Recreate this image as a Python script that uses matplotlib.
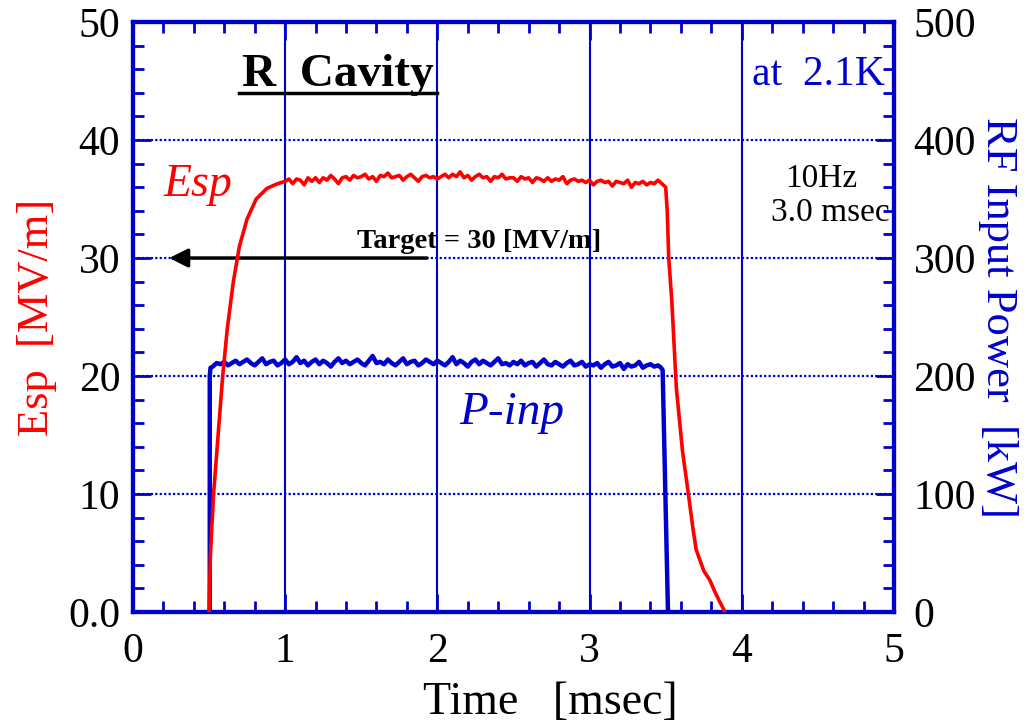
import numpy as np
import matplotlib
matplotlib.use("Agg")
import matplotlib.pyplot as plt
from matplotlib.ticker import MultipleLocator

plt.rcParams['font.family'] = ['Liberation Serif', 'DejaVu Serif']

# Esp [MV/m] trace
esp_rise_t = [0.50, 0.51, 0.53, 0.56, 0.59, 0.62, 0.66, 0.70, 0.75, 0.81, 0.88, 0.95]
esp_rise_v = [0.0, 5.0, 10.0, 15.0, 20.0, 24.0, 28.0, 31.0, 33.3, 35.0, 35.9, 36.3]
esp_flat_v = [36.5, 36.7, 36.3, 36.7, 36.6, 36.2, 36.8, 36.5, 36.8, 36.4, 36.8, 36.6, 37.0, 36.7, 36.3, 36.8, 36.9, 36.6, 37.0, 36.8,
              36.9, 37.1, 36.7, 36.9, 36.5, 37.0, 36.9, 37.2, 36.8, 36.9, 37.0, 36.6, 36.9, 37.1, 36.8, 36.5, 36.9, 37.0, 36.8, 36.9,
              36.7, 36.9, 37.1, 36.8, 37.1, 36.9, 37.3, 36.8, 37.0, 36.6, 36.9, 37.1, 36.8, 36.9, 36.5, 36.9, 36.8, 37.1, 36.7, 36.8,
              36.8, 36.5, 36.9, 36.7, 36.8, 36.4, 36.8, 36.7, 36.5, 36.8, 36.5, 36.7, 36.6, 36.9, 36.3, 36.6, 36.7, 36.5, 36.6, 36.4,
              36.6, 36.2, 36.5, 36.6, 36.4, 36.5, 36.1, 36.5, 36.4, 36.3, 36.6, 36.0, 36.4, 36.3, 36.5, 36.2, 36.4, 36.3, 36.6, 36.3]
esp_fall_t = [3.50, 3.51, 3.52, 3.54, 3.57, 3.61, 3.65, 3.68, 3.70, 3.75, 3.79, 3.82, 3.85, 3.89]
esp_fall_v = [36.0, 34.0, 30.0, 26.4, 19.0, 13.7, 9.9, 7.0, 5.3, 3.5, 2.7, 1.8, 1.0, 0.0]

# RF input power [kW] trace
pin_rise_t = [0.505, 0.505, 0.51]
pin_rise_v = [0.0, 200.0, 207.0]
pin_flat_v = [208, 211, 210, 212, 209, 211, 213, 210, 212, 214, 211, 209, 212, 215, 210, 212, 213, 209, 211, 214,
              210, 212, 216, 211, 213, 209, 212, 214, 210, 213, 211, 208, 212, 215, 211, 213, 210, 212, 214, 211,
              209, 213, 217, 211, 212, 210, 214, 211, 209, 212, 215, 210, 212, 213, 209, 211, 214, 212, 210, 213,
              211, 209, 212, 216, 210, 213, 211, 208, 212, 214, 210, 213, 211, 209, 212, 215, 210, 211, 209, 212,
              210, 213, 209, 211, 212, 208, 211, 214, 210, 209, 212, 210, 208, 211, 213, 209, 210, 212, 208, 210,
              209, 211, 207, 210, 212, 208, 209, 211, 206, 210, 208, 209, 212, 207, 209, 210, 208, 209]
pin_fall_t = [3.47, 3.48, 3.515]
pin_fall_v = [207.0, 205.0, 0.0]

# sampling grid of the flat parts
esp_flat_t = [1.0 + 0.025 * i for i in range(len(esp_flat_v))]
pin_flat_t = [0.525 + 0.025 * i for i in range(len(pin_flat_v))]

esp_t = esp_rise_t + esp_flat_t + esp_fall_t
esp_v = esp_rise_v + esp_flat_v + esp_fall_v
pin_t = pin_rise_t + pin_flat_t + pin_fall_t
pin_v = pin_rise_v + pin_flat_v + pin_fall_v

BLUE = '#0000cc'
RED = '#ff0000'

fig = plt.figure(figsize=(10.3, 7.23), dpi=100)
ax = fig.add_axes([0.129, 0.1535, 0.739, 0.816])
ax2 = ax.twinx()

ax2.plot(pin_t, pin_v, color=BLUE, lw=3.2, zorder=3)
ax.plot(esp_t, esp_v, color=RED, lw=2.6, zorder=4)

ax.set_xlim(0, 5)
ax.set_ylim(0, 50)
ax2.set_ylim(0, 500)

ax.set_zorder(ax2.get_zorder() + 1)
ax.patch.set_visible(False)

ax.xaxis.set_major_locator(MultipleLocator(1))
ax.xaxis.set_minor_locator(MultipleLocator(0.2))
ax.yaxis.set_minor_locator(MultipleLocator(2))
ax2.yaxis.set_major_locator(MultipleLocator(100))
ax2.yaxis.set_minor_locator(MultipleLocator(20))
ax.set_yticks([0, 10, 20, 30, 40, 50])
ax.set_yticklabels(['0.0', '10', '20', '30', '40', '50'])

for a in (ax, ax2):
    for s in a.spines.values():
        s.set_color(BLUE)
        s.set_linewidth(3)
    a.tick_params(which='both', direction='in', color=BLUE, labelsize=30, labelcolor='black')
    a.tick_params(which='major', length=13, width=2)
    a.tick_params(which='minor', length=8, width=2)
ax.tick_params(which='both', top=True, right=False)
ax.tick_params(axis='x', pad=15)
ax.tick_params(axis='y', pad=9)
ax2.tick_params(axis='y', pad=14)

# grid: solid vertical, dotted horizontal
for xv in [1, 2, 3, 4]:
    ax.axvline(xv, color=BLUE, lw=1.5, zorder=1)
for yv in [10, 20, 30, 40]:
    ax.axhline(yv, color=BLUE, lw=1.6, ls=(0, (1, 1)), zorder=1)

ax.set_xlabel('Time   [msec]', fontsize=33)
ax.xaxis.set_label_coords(0.548, -0.118)
ax.set_ylabel('Esp  [MV/m]', fontsize=32, color=RED, labelpad=8)
ax2.set_ylabel('RF Input Power  [kW]', fontsize=32, color=BLUE, rotation=270, labelpad=30)

ax.text(0.72, 45.5, 'R  Cavity', fontsize=34, fontweight='bold', ha='left', va='center')
ax.plot([0.70, 2.0], [44.0, 44.0], color='black', lw=2.5, clip_on=False)
ax.text(4.94, 45.5, 'at  2.1K', fontsize=30, color=BLUE, ha='right', va='center')
ax.text(4.52, 36.7, '10Hz', fontsize=24, ha='center', va='center')
ax.text(4.97, 33.8, '3.0 msec', fontsize=24, ha='right', va='center')
ax.text(0.20, 36.2, 'Esp', fontsize=33, color=RED, style='italic', ha='left', va='center')
ax.text(2.49, 16.9, 'P-inp', fontsize=34, color=BLUE, style='italic', ha='center', va='center')
ax.text(1.47, 31.4, 'Target = 30 [MV/m]', fontsize=20.5, fontweight='bold', ha='left', va='center')
ax.annotate('', xy=(0.22, 30), xytext=(1.95, 30),
            arrowprops=dict(arrowstyle='-|>', color='black', lw=2.5, mutation_scale=28))

fig.savefig('out.png', dpi=100)
